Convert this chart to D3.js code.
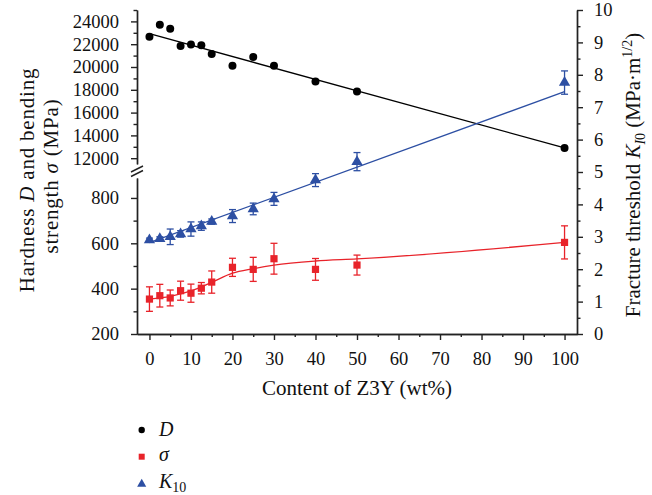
<!DOCTYPE html>
<html>
<head>
<meta charset="utf-8">
<script src="https://cdn.jsdelivr.net/npm/d3@7"></script>
<style>
  body { margin: 0; background: #fff; }
  svg text { font-family: 'Liberation Serif', 'Times New Roman', serif; fill: #111; }
</style>
</head>
<body>
<div class="container"></div>
<script>
// Z3Y content (wt%)
const content = [0, 2.5, 5, 7.5, 10, 12.5, 15, 20, 25, 30, 40, 50, 100];
// hardness D (MPa), upper part of left axis
const hardness = [22650, 23700, 23350, 21850, 21980, 21900, 21150, 20100, 20870, 20100, 18720, 17840, 12900];
// bending strength sigma (MPa), lower part of left axis
const strength = [354, 369, 359, 391, 380, 402, 429, 494, 485, 532, 485, 504, 604];
const strengthErr = [54, 50, 35, 42, 40, 25, 49, 40, 53, 68, 48, 44, 73];
// fracture threshold K10, right axis
const k10 = [2.90, 2.94, 3.00, 3.09, 3.24, 3.33, 3.47, 3.64, 3.86, 4.17, 4.75, 5.32, 7.76];
const k10Err = [0.06, 0.06, 0.24, 0.10, 0.22, 0.13, 0.08, 0.20, 0.18, 0.20, 0.20, 0.28, 0.36];

// fitted lines
const hardFitX = [0, 100];
const hardFit = [22920, 12900];
const strengthFitX = [0, 5, 10, 15, 20, 25, 30, 40, 50, 100];
const strengthFit = [354, 366, 390, 428, 468, 488, 504, 522, 531, 604];
const k10FitX = [0, 100];
const k10Fit = [2.82, 7.48];

const xTicks = [0, 10, 20, 30, 40, 50, 60, 70, 80, 90, 100];
const upperTicks = [12000, 14000, 16000, 18000, 20000, 22000, 24000];
const lowerTicks = [200, 400, 600, 800];
const rightTicks = [0, 1, 2, 3, 4, 5, 6, 7, 8, 9, 10];

const black = '#000';
const red = '#e8232a';
const blue = '#2d4fa3';

let svg = d3.select('.container')
  .append('svg')
  .attr('width', 652)
  .attr('height', 495);

let x = d3.scaleLinear().domain([-3, 103]).range([137, 577]);
let yUp = d3.scaleLinear().domain([11500, 25000]).range([163.9, 10]);
let yLow = d3.scaleLinear().domain([200, 888]).range([334, 178]);
let yR = d3.scaleLinear().domain([0, 10]).range([334, 10]);

const tickFont = '18.5px';

function styleAxis(g) {
  g.selectAll('path, line').attr('stroke', '#222').attr('stroke-width', 1.4);
  g.selectAll('text').style('font-size', tickFont).attr('fill', '#111');
}

// x axis
svg.append('g')
  .attr('transform', 'translate(0,334)')
  .call(d3.axisBottom(x).tickValues(d3.range(5, 100, 10)).tickSize(3).tickFormat('').tickSizeOuter(0))
  .call(styleAxis);
svg.append('g')
  .attr('transform', 'translate(0,334)')
  .call(d3.axisBottom(x).tickValues(xTicks).tickSize(6).tickPadding(12).tickSizeOuter(0))
  .call(styleAxis);

// left axis, upper section
svg.append('g')
  .attr('transform', 'translate(137,0)')
  .call(d3.axisLeft(yUp).tickValues(d3.range(13000, 25001, 2000)).tickSize(3.5).tickFormat('').tickSizeOuter(0))
  .call(styleAxis);
svg.append('g')
  .attr('transform', 'translate(137,0)')
  .call(d3.axisLeft(yUp).tickValues(upperTicks).tickSize(6).tickPadding(12).tickFormat(d3.format('d')).tickSizeOuter(0))
  .call(styleAxis);

// left axis, lower section
svg.append('g')
  .attr('transform', 'translate(137,0)')
  .call(d3.axisLeft(yLow).tickValues([300, 500, 700]).tickSize(3.5).tickFormat('').tickSizeOuter(0))
  .call(styleAxis);
svg.append('g')
  .attr('transform', 'translate(137,0)')
  .call(d3.axisLeft(yLow).tickValues(lowerTicks).tickSize(6).tickPadding(12).tickSizeOuter(0))
  .call(styleAxis);

// axis break marks
[0, 4.5].forEach((o) => {
  svg.append('line')
    .attr('x1', 131).attr('y1', 172 + o)
    .attr('x2', 143).attr('y2', 166 + o)
    .attr('stroke', '#222').attr('stroke-width', 1.4);
});

// right axis
svg.append('g')
  .attr('transform', 'translate(577,0)')
  .call(d3.axisRight(yR).tickValues(d3.range(0.5, 10, 1)).tickSize(3.5).tickFormat('').tickSizeOuter(0))
  .call(styleAxis);
svg.append('g')
  .attr('transform', 'translate(577,0)')
  .call(d3.axisRight(yR).tickValues(rightTicks).tickSize(6).tickPadding(11).tickSizeOuter(0))
  .call(styleAxis);

// axis titles
svg.append('text')
  .attr('x', 357).attr('y', 395)
  .attr('text-anchor', 'middle')
  .style('font-size', '21px')
  .text('Content of Z3Y (wt%)');

let lt1 = svg.append('text')
  .attr('transform', 'translate(34,180) rotate(-90)')
  .attr('text-anchor', 'middle')
  .style('font-size', '21px')
  .style('letter-spacing', '0.8px');
lt1.append('tspan').text('Hardness ');
lt1.append('tspan').style('font-style', 'italic').text('D');
lt1.append('tspan').text(' and bending');

let lt2 = svg.append('text')
  .attr('transform', 'translate(58,176) rotate(-90)')
  .attr('text-anchor', 'middle')
  .style('font-size', '21px')
  .style('letter-spacing', '0.8px');
lt2.append('tspan').text('strength ');
lt2.append('tspan').style('font-style', 'italic').text('σ');
lt2.append('tspan').text(' (MPa)');

let rt = svg.append('text')
  .attr('transform', 'translate(640,175) rotate(-90)')
  .attr('text-anchor', 'middle')
  .style('font-size', '21px');
rt.append('tspan').text('Fracture threshold ');
rt.append('tspan').style('font-style', 'italic').text('K');
rt.append('tspan').attr('dy', 5).style('font-size', '14px').style('font-style', 'italic').text('I');
rt.append('tspan').style('font-size', '14px').text('0');
rt.append('tspan').attr('dy', -5).text(' (MPa·m');
rt.append('tspan').attr('dy', -8).style('font-size', '14px').text('1/2');
rt.append('tspan').attr('dy', 8).text(')');

// fit lines
let lineUp = d3.line().x((d) => x(d[0])).y((d) => yUp(d[1]));
let lineLow = d3.line().x((d) => x(d[0])).y((d) => yLow(d[1])).curve(d3.curveMonotoneX);
let lineR = d3.line().x((d) => x(d[0])).y((d) => yR(d[1]));

svg.append('path')
  .attr('d', lineUp(d3.zip(hardFitX, hardFit)))
  .attr('fill', 'none').attr('stroke', black).attr('stroke-width', 1.3);
svg.append('path')
  .attr('d', lineLow(d3.zip(strengthFitX, strengthFit)))
  .attr('fill', 'none').attr('stroke', red).attr('stroke-width', 1.3);
svg.append('path')
  .attr('d', lineR(d3.zip(k10FitX, k10Fit)))
  .attr('fill', 'none').attr('stroke', blue).attr('stroke-width', 1.3);

// error bars
function errorBars(vals, errs, y, color) {
  let g = svg.append('g').attr('stroke', color).attr('stroke-width', 1.3);
  content.forEach((c, i) => {
    let cx = x(c);
    let top = y(vals[i] + errs[i]);
    let bot = y(vals[i] - errs[i]);
    g.append('line').attr('x1', cx).attr('x2', cx).attr('y1', top).attr('y2', bot);
    g.append('line').attr('x1', cx - 3.5).attr('x2', cx + 3.5).attr('y1', top).attr('y2', top);
    g.append('line').attr('x1', cx - 3.5).attr('x2', cx + 3.5).attr('y1', bot).attr('y2', bot);
  });
}
errorBars(strength, strengthErr, yLow, red);
errorBars(k10, k10Err, yR, blue);

// markers
svg.append('g')
  .selectAll('circle')
  .data(d3.zip(content, hardness))
  .enter()
  .append('circle')
  .attr('cx', (d) => x(d[0]))
  .attr('cy', (d) => yUp(d[1]))
  .attr('r', 4)
  .attr('fill', black);

svg.append('g')
  .selectAll('rect')
  .data(d3.zip(content, strength))
  .enter()
  .append('rect')
  .attr('x', (d) => x(d[0]) - 3.6)
  .attr('y', (d) => yLow(d[1]) - 3.6)
  .attr('width', 7.2)
  .attr('height', 7.2)
  .attr('fill', red);

svg.append('g')
  .selectAll('path')
  .data(d3.zip(content, k10))
  .enter()
  .append('path')
  .attr('d', d3.symbol(d3.symbolTriangle, 55))
  .attr('transform', (d) => 'translate(' + x(d[0]) + ',' + yR(d[1]) + ')')
  .attr('fill', blue);

// legend
let legend = svg.append('g');
legend.append('circle').attr('cx', 141.7).attr('cy', 430).attr('r', 3.2).attr('fill', black);
legend.append('rect').attr('x', 138.7).attr('y', 453.7).attr('width', 6).attr('height', 6).attr('fill', red);
legend.append('path')
  .attr('d', d3.symbol(d3.symbolTriangle, 36))
  .attr('transform', 'translate(141.7,484)')
  .attr('fill', blue);

legend.append('text').attr('x', 159).attr('y', 436)
  .style('font-size', '20px').style('font-style', 'italic').text('D');
legend.append('text').attr('x', 159).attr('y', 461)
  .style('font-size', '20px').style('font-style', 'italic').text('σ');
let lk = legend.append('text').attr('x', 159).attr('y', 488).style('font-size', '20px');
lk.append('tspan').style('font-style', 'italic').text('K');
lk.append('tspan').attr('dy', 4).style('font-size', '14px').text('10');
</script>
</body>
</html>
